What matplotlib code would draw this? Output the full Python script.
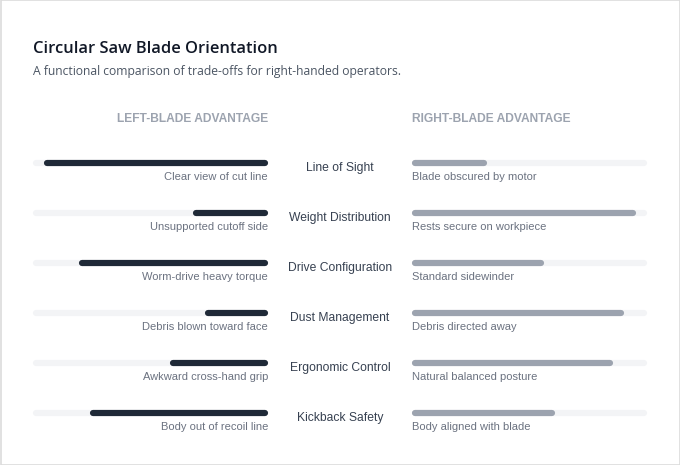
import matplotlib
matplotlib.use("Agg")
import matplotlib.pyplot as plt
from matplotlib.patches import Rectangle
from matplotlib.transforms import blended_transform_factory, offset_copy

categories = ["Line of Sight", "Weight Distribution", "Drive Configuration",
              "Dust Management", "Ergonomic Control", "Kickback Safety"]
left_values = [95, 30, 80, 25, 40, 75]
right_values = [30, 95, 55, 90, 85, 60]
left_notes = ["Clear view of cut line", "Unsupported cutoff side", "Worm-drive heavy torque",
              "Debris blown toward face", "Awkward cross-hand grip", "Body out of recoil line"]
right_notes = ["Blade obscured by motor", "Rests secure on workpiece", "Standard sidewinder",
               "Debris directed away", "Natural balanced posture", "Body aligned with blade"]

W, H = 680, 465
DARK = "#1f2937"
GREY = "#9ca3af"
TRACK = "#f3f4f6"
BODY = ["Liberation Sans", "DejaVu Sans"]

fig = plt.figure(figsize=(W / 100, H / 100), dpi=100)
fig.patch.set_facecolor("white")


def px_axes(x0, x1, y0, y1):
    # y0/y1 are pixel rows measured from the top
    return fig.add_axes([x0 / W, 1 - y1 / H, (x1 - x0) / W, (y1 - y0) / H])


n = len(categories)
lw = 6.2 * 72 / 100  # ~6 px thick bars

axL = px_axes(36, 265, 137.5, 437.5)
axR = px_axes(415, 644, 137.5, 437.5)
for ax, vals, col in ((axL, left_values, DARK), (axR, right_values, GREY)):
    ax.set_xlim(0, 100)
    ax.set_ylim(n - 0.5, -0.5)
    ax.axis("off")
    for i, v in enumerate(vals):
        ax.plot([0, 100], [i, i], color=TRACK, lw=lw, solid_capstyle="round", clip_on=False)
        ax.plot([0, v], [i, i], color=col, lw=lw, solid_capstyle="round", clip_on=False)
axL.invert_xaxis()

ytrans = blended_transform_factory(fig.transFigure, axL.transData)
cat_trans = offset_copy(ytrans, fig=fig, y=-8, units="dots")
note_trans = offset_copy(ytrans, fig=fig, y=-17.5, units="dots")

for i, cat in enumerate(categories):
    fig.text(340 / W, i, cat, transform=cat_trans, ha="center", va="baseline",
             fontsize=8.7, color="#374151", family=BODY)
    fig.text(268 / W, i, left_notes[i], transform=note_trans, ha="right", va="baseline",
             fontsize=8.0, color="#6b7280", family=BODY)
    fig.text(412 / W, i, right_notes[i], transform=note_trans, ha="left", va="baseline",
             fontsize=8.0, color="#6b7280", family=BODY)

# header texts
fig.text(33 / W, 1 - 53 / H, "Circular Saw Blade Orientation", ha="left", va="baseline",
         fontsize=11.85, weight="semibold", color="#111827", family=["Open Sans", "DejaVu Sans"])
fig.text(33 / W, 1 - 75 / H, "A functional comparison of trade-offs for right-handed operators.",
         ha="left", va="baseline", fontsize=8.7, color="#4b5563", family=["Open Sans", "DejaVu Sans"])
fig.text(268 / W, 1 - 122 / H, "LEFT-BLADE ADVANTAGE", ha="right", va="baseline",
         fontsize=8.65, weight="bold", color=GREY, family=BODY)
fig.text(412 / W, 1 - 122 / H, "RIGHT-BLADE ADVANTAGE", ha="left", va="baseline",
         fontsize=8.65, weight="bold", color=GREY, family=BODY)

fig.patches.append(Rectangle((0.5 / W, 0.5 / H), 1 - 1 / W, 1 - 1 / H, transform=fig.transFigure,
                             fill=False, edgecolor="#dcdcdc", lw=1.2))

fig.savefig("out.png", dpi=100, facecolor="white")
